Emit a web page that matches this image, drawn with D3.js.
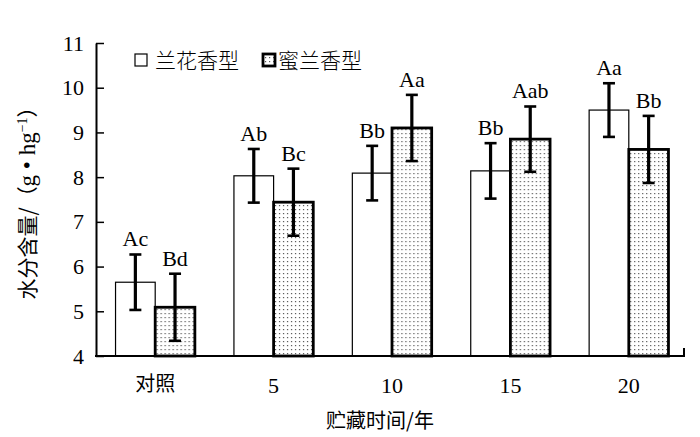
<!DOCTYPE html>
<html><head><meta charset="utf-8">
<script src="https://cdn.jsdelivr.net/npm/d3@7"></script>
<style>body{margin:0;background:#fff;} svg{display:block;}</style>
</head><body>
<svg id="c" width="700" height="437"></svg>
<script>
const categories = ["对照", "5", "10", "15", "20"];
const seriesNames = ["兰花香型", "蜜兰香型"];
const orchidValues = [5.65, 8.03, 8.09, 8.14, 9.50];
const orchidErrors = [0.62, 0.60, 0.61, 0.62, 0.60];
const orchidLabels = ["Ac", "Ab", "Bb", "Bb", "Aa"];
const honeyValues = [5.09, 7.44, 9.10, 8.85, 8.62];
const honeyErrors = [0.75, 0.75, 0.74, 0.73, 0.75];
const honeyLabels = ["Bd", "Bc", "Aa", "Aab", "Bb"];
const yTicks = [4, 5, 6, 7, 8, 9, 10, 11];

const svg = d3.select("#c");
const defs = svg.append("defs");
const pat = defs.append("pattern").attr("id","dots").attr("patternUnits","userSpaceOnUse")
  .attr("width",4).attr("height",4);
pat.append("rect").attr("width",4).attr("height",4).attr("fill","#fff");
pat.append("rect").attr("x",1).attr("y",1).attr("width",1.2).attr("height",1.2).attr("fill","#555");

const serif = "'Liberation Serif','Times New Roman',serif";
const cjk = "'Noto Sans CJK SC','Noto Sans CJK JP',sans-serif";

const y = d3.scaleLinear().domain([4, 11]).range([356, 43]);
const x0 = d3.scaleBand().domain(categories).range([96, 688]).paddingInner(0.33).paddingOuter(0.165);
const x1 = d3.scaleBand().domain([0,1]).range([0, x0.bandwidth()]);

const data = categories.map((c,i)=>({c, bars:[
  {s:0, v:orchidValues[i], e:orchidErrors[i], l:orchidLabels[i]},
  {s:1, v:honeyValues[i], e:honeyErrors[i], l:honeyLabels[i]}]}));

const g = svg.selectAll("g.grp").data(data).join("g")
  .attr("transform", d=>`translate(${x0(d.c)},0)`);
const b = g.selectAll("g.bar").data(d=>d.bars).join("g");
b.append("rect")
  .attr("x", d=>x1(d.s)).attr("width", x1.bandwidth())
  .attr("y", d=>y(d.v)).attr("height", d=>y(4)-y(d.v))
  .attr("fill", d=>d.s? "url(#dots)":"#fff")
  .attr("stroke","#000").attr("stroke-width", d=>d.s?2.8:1.2);
const cx = d=>x1(d.s)+x1.bandwidth()/2;
b.append("line").attr("x1",cx).attr("x2",cx).attr("y1",d=>y(d.v+d.e)).attr("y2",d=>y(d.v-d.e))
  .attr("stroke","#000").attr("stroke-width",3.2);
b.append("line").attr("x1",d=>cx(d)-6).attr("x2",d=>cx(d)+6).attr("y1",d=>y(d.v+d.e)).attr("y2",d=>y(d.v+d.e))
  .attr("stroke","#000").attr("stroke-width",2.6);
b.append("line").attr("x1",d=>cx(d)-6).attr("x2",d=>cx(d)+6).attr("y1",d=>y(d.v-d.e)).attr("y2",d=>y(d.v-d.e))
  .attr("stroke","#000").attr("stroke-width",2.6);
b.append("text").attr("x",cx).attr("y",d=>y(d.v+d.e)-8)
  .attr("text-anchor","middle").style("font-family",serif).style("font-size","22px").text(d=>d.l);

// axes
const yAxis = d3.axisLeft(y).tickValues(yTicks).tickFormat(d3.format("d")).tickSize(-8).tickPadding(12).tickSizeOuter(0);
const ya = svg.append("g").attr("transform","translate(96,0)").call(yAxis);
ya.select(".domain").attr("stroke","#000").attr("stroke-width",2);
ya.selectAll(".tick line").attr("stroke","#000").attr("stroke-width",1.5);
ya.selectAll(".tick text").style("font-family",serif).style("font-size","22px").attr("fill","#000");

const xa = svg.append("g").attr("transform","translate(0,356)").call(d3.axisBottom(x0).tickSize(0).tickPadding(21));
xa.select(".domain").remove();
xa.selectAll(".tick text").style("font-family",d=>isNaN(+d)?cjk:serif).style("font-size",d=>isNaN(+d)?"20px":"22px").attr("fill","#000");
svg.append("path").attr("d","M95,356H684V348").attr("fill","none").attr("stroke","#000").attr("stroke-width",2);

// axis titles
svg.append("text").attr("x",380).attr("y",428).attr("text-anchor","middle")
  .style("font-family",cjk).style("font-size","20px").text("贮藏时间/年");
const yt = svg.append("text").attr("transform","translate(35,198) rotate(-90)").attr("text-anchor","middle")
  .style("font-size","21px");
yt.append("tspan").style("font-family",cjk).text("水分含量/（");
yt.append("tspan").style("font-family",serif).style("font-size","23px").text("g • hg");
yt.append("tspan").style("font-family",serif).style("font-size","14px").attr("dy",-8).text("−1");
yt.append("tspan").style("font-family",cjk).attr("dy",8).text("）");

// legend
const leg = svg.append("g");
const lx = [135, 263];
seriesNames.forEach((n,i)=>{
  leg.append("rect").attr("x",lx[i]).attr("y",54).attr("width",12).attr("height",12)
    .attr("fill", i?"url(#dots)":"#fff").attr("stroke","#000").attr("stroke-width",i?2.8:1.2);
  leg.append("text").attr("x",lx[i]+ (i?15:20)).attr("y",68).style("font-family",cjk).style("font-size","21px")
    .style("font-weight",300).text(n);
});
</script>
</body></html>
